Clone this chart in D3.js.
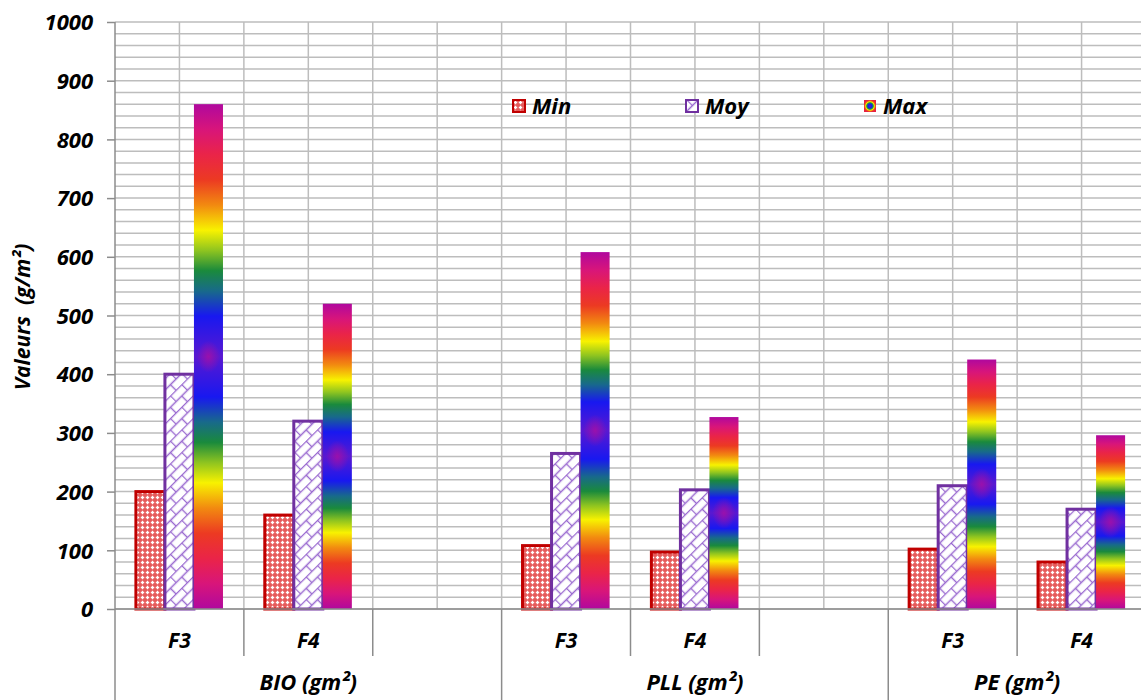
<!DOCTYPE html>
<html lang="fr">
<head>
<meta charset="UTF-8">
<title>Valeurs (g/m²)</title>
<style>
  html, body { margin: 0; background: #fff; }
  svg { display: block; }
  text { font-family: "Open Sans", Lato, sans-serif; font-weight: bold; font-style: italic; fill: #000; }
</style>
</head>
<body>
<main></main>
<script src="https://d3js.org/d3.v7.min.js"></script>
<script>
!(function () {
  'use strict';

  // data
  const groups = ['BIO (gm²)', 'PLL (gm²)', 'PE (gm²)'];
  const slots = ['BIO-F3', 'BIO-F4', 'BIO-x', 'PLL-F3', 'PLL-F4', 'PLL-x', 'PE-F3', 'PE-F4'];
  const slotLabels = ['F3', 'F4', '', 'F3', 'F4', '', 'F3', 'F4'];
  const series = ['Min', 'Moy', 'Max'];
  const minValues = [200, 160, null, 108, 97, null, 102, 80];
  const moyValues = [400, 320, null, 265, 203, null, 210, 170];
  const maxValues = [860, 520, null, 608, 327, null, 425, 296];
  const yTicks = [0, 100, 200, 300, 400, 500, 600, 700, 800, 900, 1000];

  const W = 1141, H = 700;
  const margin = { left: 115, top: 22, bottom: 609, right: 1146 };

  const svg = d3.select('main').append('svg').attr('width', W).attr('height', H);
  const defs = svg.append('defs');

  const y = d3.scaleLinear().domain([0, 1000]).range([margin.bottom, margin.top]);
  const x = d3.scaleBand().domain(slots).range([margin.left, margin.right]);
  const xs = d3.scaleBand().domain(series).range([0, x.bandwidth()]).paddingOuter(0.72);

  // patterns
  const pMin = defs.append('pattern').attr('id', 'pMin').attr('patternUnits', 'userSpaceOnUse')
    .attr('width', 5).attr('height', 5);
  pMin.append('rect').attr('width', 5).attr('height', 5).attr('fill', '#e65a5a');
  pMin.append('path').attr('d', 'M2.5,0.8V4.2M0.8,2.5H4.2').attr('stroke', '#fff').attr('stroke-width', 1.3);

  const pMoy = defs.append('pattern').attr('id', 'pMoy').attr('patternUnits', 'userSpaceOnUse')
    .attr('width', 16).attr('height', 16).attr('patternTransform', 'rotate(-45)');
  pMoy.append('rect').attr('width', 16).attr('height', 16).attr('fill', '#fff');
  pMoy.append('path').attr('d', 'M0,0.5H16M0,8.5H16M0.5,0V8M8.5,8V16')
    .attr('stroke', '#9a6ad0').attr('stroke-width', 1.4).attr('fill', 'none');

  const rainbow = [
    [0, '#b0089e'], [0.05, '#d8157a'], [0.1, '#ea2448'], [0.15, '#ec3a22'],
    [0.2, '#f28a10'], [0.25, '#f8f200'], [0.29, '#8ec420'], [0.33, '#1a8a3c'],
    [0.37, '#186a8a'], [0.42, '#1818f0'], [0.5, '#5a18d0']
  ];
  const linStops = rainbow.concat(rainbow.slice(0, -1).reverse().map(d => [1 - d[0], d[1]]));
  const lg = defs.append('linearGradient').attr('id', 'gMax')
    .attr('x1', 0).attr('y1', 0).attr('x2', 0).attr('y2', 1);
  lg.selectAll('stop').data(linStops).join('stop')
    .attr('offset', d => d[0]).attr('stop-color', d => d[1]);

  const rg = defs.append('radialGradient').attr('id', 'gCenter');
  rg.append('stop').attr('offset', 0).attr('stop-color', '#a010a8').attr('stop-opacity', 0.9);
  rg.append('stop').attr('offset', 1).attr('stop-color', '#a010a8').attr('stop-opacity', 0);

  const lgIcon = defs.append('radialGradient').attr('id', 'gIcon');
  [[0, '#6a18c8'], [0.3, '#1818f0'], [0.55, '#1a9a3c'], [0.7, '#f8f200'], [0.85, '#f07010'], [1, '#e82040']]
    .forEach(s => lgIcon.append('stop').attr('offset', s[0]).attr('stop-color', s[1]));

  // horizontal gridlines every 20
  svg.append('g').selectAll('line').data(y.ticks(50)).join('line')
    .attr('x1', margin.left).attr('x2', margin.right)
    .attr('y1', d => y(d)).attr('y2', d => y(d))
    .attr('stroke', '#bdbdbd').attr('stroke-width', 1.5);

  // vertical gridlines at slot edges and slot centres
  const vx = [];
  slots.forEach(s => { vx.push(x(s)); vx.push(x(s) + x.bandwidth() / 2); });
  svg.append('g').selectAll('line').data(vx.slice(1)).join('line')
    .attr('x1', d => d).attr('x2', d => d)
    .attr('y1', margin.top).attr('y2', margin.bottom)
    .attr('stroke', '#bdbdbd').attr('stroke-width', 1.5);

  // bars
  const rows = slots.map((s, i) => ({ slot: s, Min: minValues[i], Moy: moyValues[i], Max: maxValues[i] }))
    .filter(d => d.Min !== null);

  const g = svg.append('g');
  rows.forEach(r => {
    const x0 = x(r.slot);
    g.append('rect')
      .attr('x', x0 + xs('Min')).attr('y', y(r.Min))
      .attr('width', xs.bandwidth()).attr('height', y(0) - y(r.Min))
      .attr('fill', 'url(#pMin)').attr('stroke', '#c00000').attr('stroke-width', 3);
    g.append('rect')
      .attr('x', x0 + xs('Moy')).attr('y', y(r.Moy))
      .attr('width', xs.bandwidth()).attr('height', y(0) - y(r.Moy))
      .attr('fill', 'url(#pMoy)').attr('stroke', '#7030a0').attr('stroke-width', 3);
    g.append('rect')
      .attr('x', x0 + xs('Max')).attr('y', y(r.Max))
      .attr('width', xs.bandwidth()).attr('height', y(0) - y(r.Max))
      .attr('fill', 'url(#gMax)');
    g.append('ellipse')
      .attr('cx', x0 + xs('Max') + xs.bandwidth() / 2).attr('cy', (y(r.Max) + y(0)) / 2)
      .attr('rx', xs.bandwidth() * 0.4).attr('ry', xs.bandwidth() * 0.55)
      .attr('fill', 'url(#gCenter)');
  });

  // y axis
  const yAxis = svg.append('g').attr('transform', `translate(${margin.left},0)`)
    .call(d3.axisLeft(y).tickValues(yTicks).tickFormat(d3.format('d')).tickSize(8).tickPadding(14));
  yAxis.select('.domain').remove();
  yAxis.selectAll('.tick line').attr('stroke', '#8c8c8c').attr('stroke-width', 1.5);
  yAxis.selectAll('.tick text').attr('font-size', 22).attr('dy', '0.35em')
    .style('font-family', '"Open Sans", sans-serif');
  svg.append('line').attr('x1', margin.left).attr('x2', margin.left)
    .attr('y1', margin.top).attr('y2', H)
    .attr('stroke', '#8c8c8c').attr('stroke-width', 1.5);

  // x axis
  svg.append('line').attr('x1', margin.left).attr('x2', margin.right)
    .attr('y1', y(0)).attr('y2', y(0))
    .attr('stroke', '#8c8c8c').attr('stroke-width', 1.5);
  svg.append('g').selectAll('line').data(slots.slice(1)).join('line')
    .attr('x1', d => x(d)).attr('x2', d => x(d))
    .attr('y1', y(0)).attr('y2', (d, i) => ((i + 1) % 3 === 0 ? H : 656))
    .attr('stroke', '#8c8c8c').attr('stroke-width', 1.5);
  svg.append('g').selectAll('text').data(slots).join('text')
    .attr('x', d => x(d) + x.bandwidth() / 2).attr('y', 648)
    .attr('text-anchor', 'middle').attr('font-size', 21)
    .text((d, i) => slotLabels[i]);
  svg.append('g').selectAll('text').data(groups).join('text')
    .attr('x', (d, i) => {
      const a = x(slots[i * 3]);
      const b = i < 2 ? x(slots[i * 3 + 3]) : margin.right;
      return (a + b) / 2;
    })
    .attr('y', 690).attr('text-anchor', 'middle').attr('font-size', 22)
    .text(d => d);

  // y title
  svg.append('text').attr('transform', 'translate(30,317) rotate(-90)')
    .attr('text-anchor', 'middle').attr('font-size', 21)
    .attr('xml:space', 'preserve')
    .text('Valeurs  (g/m²)');

  // legend
  const legend = [
    { name: 'Min', x: 513, fill: 'url(#pMin)', stroke: '#c00000' },
    { name: 'Moy', x: 686, fill: 'url(#pMoy)', stroke: '#7030a0' },
    { name: 'Max', x: 864, fill: 'url(#gIcon)', stroke: 'none' }
  ];
  const lgd = svg.append('g').selectAll('g').data(legend).join('g')
    .attr('transform', d => `translate(${d.x},100)`);
  lgd.append('rect').attr('width', 12).attr('height', 12)
    .attr('fill', d => d.fill).attr('stroke', d => d.stroke).attr('stroke-width', 2);
  lgd.append('text').attr('x', 19).attr('y', 14).attr('font-size', 22).text(d => d.name);
}());
</script>
</body>
</html>
